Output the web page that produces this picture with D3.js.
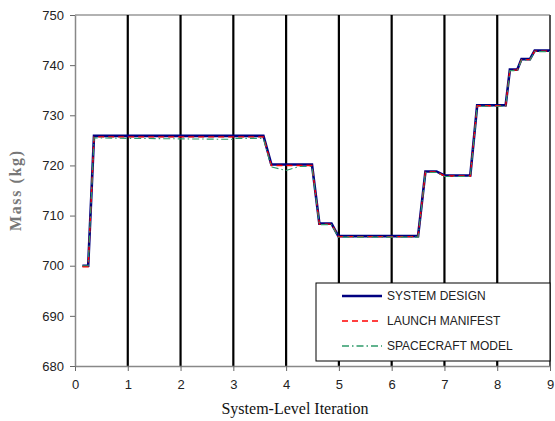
<!DOCTYPE html>
<html>
<head>
<meta charset="utf-8">
<script src="https://cdn.jsdelivr.net/npm/d3@7"></script>
<style>
  body { margin: 0; background: #fff; }
  svg { display: block; }
</style>
</head>
<body>
<script>
// values
const iterations = [0.14, 0.25, 0.36, 1, 2, 3, 3.03, 3.57, 3.72, 4.0, 4.26, 4.49, 4.63, 4.86, 4.99,
    6.5, 6.64, 6.85, 7.0, 7.49, 7.62, 8.16, 8.24, 8.38, 8.46, 8.62, 8.71, 9.0];
const systemDesign = [700, 700, 725.9, 725.9, 725.9, 725.9, 725.9, 725.9, 720.2, 720.2, 720.2, 720.2, 708.4, 708.4, 705.9,
    705.9, 718.8, 718.8, 718.0, 718.0, 732.0, 732.0, 739.1, 739.1, 741.2, 741.2, 742.9, 742.9];
const launchManifest = [699.8, 699.8, 725.7, 725.7, 725.7, 725.7, 725.7, 725.7, 720.0, 720.0, 720.0, 720.0, 708.3, 708.3, 705.8,
    705.8, 718.7, 718.7, 717.9, 717.9, 731.9, 731.9, 739.0, 739.0, 741.1, 741.1, 742.8, 742.8];
const spacecraftModel = [700, 700, 725.5, 725.4, 725.3, 725.2, 725.4, 725.4, 719.7, 719.0, 719.8, 719.8, 708.2, 708.2, 705.7,
    705.7, 718.6, 718.6, 717.8, 717.8, 731.8, 731.8, 738.9, 738.9, 741.0, 741.0, 742.7, 742.7];
const seriesNames = ["SYSTEM DESIGN", "LAUNCH MANIFEST", "SPACECRAFT MODEL"];
const xTicks = [0, 1, 2, 3, 4, 5, 6, 7, 8, 9];
const yTicks = [680, 690, 700, 710, 720, 730, 740, 750];

const width = 555, height = 421;
const margin = { top: 15, right: 5, bottom: 55, left: 75 };

const svg = d3.select("body").append("svg")
    .attr("width", width)
    .attr("height", height);

const x = d3.scaleLinear().domain([0, 9]).range([margin.left, width - margin.right]);
const y = d3.scaleLinear().domain([680, 750]).range([height - margin.bottom, margin.top]);

// top border
svg.append("line")
    .attr("x1", x(0)).attr("x2", x(9))
    .attr("y1", y(750)).attr("y2", y(750))
    .attr("stroke", "#999").attr("stroke-width", 1.5);

// vertical grid lines
svg.append("g")
    .selectAll("line")
    .data(xTicks.filter(d => d > 0 && d < 9))
    .enter()
    .append("line")
    .attr("x1", d => x(d)).attr("x2", d => x(d))
    .attr("y1", y(750)).attr("y2", y(680))
    .attr("stroke", "#000").attr("stroke-width", 2.2);

// right border
svg.append("line")
    .attr("x1", x(9)).attr("x2", x(9))
    .attr("y1", y(750)).attr("y2", y(680))
    .attr("stroke", "#555").attr("stroke-width", 2);

// axes
const xAxis = svg.append("g")
    .attr("transform", `translate(0,${y(680)})`)
    .call(d3.axisBottom(x).tickValues(xTicks).tickSize(5).tickPadding(9).tickSizeOuter(0));
const yAxis = svg.append("g")
    .attr("transform", `translate(${x(0)},0)`)
    .call(d3.axisLeft(y).tickValues(yTicks).tickSize(5).tickPadding(6).tickSizeOuter(0));

[xAxis, yAxis].forEach(g => {
    g.select(".domain").attr("stroke", "#888").attr("stroke-width", 1.5);
    g.selectAll(".tick line").attr("stroke", "#666");
    g.selectAll("text")
        .attr("fill", "#222")
        .style("font-family", "'Liberation Sans', Arial, sans-serif")
        .style("font-size", "13px");
});

// series
const rows = iterations.map((it, i) => ({ it, v: [systemDesign[i], launchManifest[i], spacecraftModel[i]] }));
const styles = [
    { color: "#000080", width: 2.6, dash: null },
    { color: "#ff0000", width: 1.4, dash: "6,4" },
    { color: "#2e9a6a", width: 1.1, dash: "7,3,1.5,3" }
];

styles.forEach((s, k) => {
    const line = d3.line().x(d => x(d.it)).y(d => y(d.v[k]));
    svg.append("path")
        .datum(rows)
        .attr("d", line)
        .attr("fill", "none")
        .attr("stroke", s.color)
        .attr("stroke-width", s.width)
        .attr("stroke-dasharray", s.dash);
});

// legend
const legend = svg.append("g");
legend.append("rect")
    .attr("x", 316).attr("y", 283)
    .attr("width", x(9) - 316).attr("height", 78)
    .attr("fill", "#fff").attr("stroke", "#000").attr("stroke-width", 1);

seriesNames.forEach((name, k) => {
    const ly = 296 + k * 25;
    legend.append("line")
        .attr("x1", 342).attr("x2", 382)
        .attr("y1", ly).attr("y2", ly)
        .attr("stroke", styles[k].color)
        .attr("stroke-width", k === 0 ? 2.6 : 1.4)
        .attr("stroke-dasharray", styles[k].dash);
    legend.append("text")
        .attr("x", 387).attr("y", ly + 4)
        .attr("fill", "#222")
        .style("font-family", "'Liberation Sans', Arial, sans-serif")
        .style("font-size", "12px")
        .text(name);
});

// axis titles
svg.append("text")
    .attr("x", 295).attr("y", 414)
    .attr("text-anchor", "middle")
    .style("font-family", "'Liberation Serif', 'Times New Roman', serif")
    .style("font-size", "16px")
    .attr("fill", "#111")
    .text("System-Level Iteration");

svg.append("text")
    .attr("transform", `translate(21,191) rotate(-90)`)
    .attr("text-anchor", "middle")
    .style("font-family", "'Liberation Serif', 'Times New Roman', serif")
    .style("font-size", "16px")
    .style("font-weight", "bold")
    .attr("fill", "#777")
    .attr("textLength", 80)
    .text("Mass (kg)");
</script>
</body>
</html>
